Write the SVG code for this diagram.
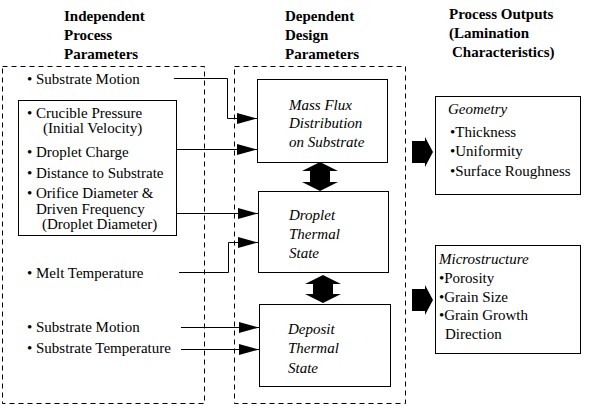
<svg xmlns="http://www.w3.org/2000/svg" width="589" height="406" viewBox="0 0 589 406">
<style>
text{font-family:"Liberation Serif","Times New Roman",serif;font-size:15px;fill:#000}
.h{font-weight:bold}
.i{font-style:italic}
.dash{fill:none;stroke:#000;stroke-width:1;stroke-dasharray:5,4}
.box{fill:#fff;stroke:#000;stroke-width:1}
.ln{fill:none;stroke:#000;stroke-width:1}
.blk{fill:#000;stroke:none}
</style>
<defs>
<marker id="ah" viewBox="0 0 20 11" refX="20" refY="5.5" markerWidth="20" markerHeight="11" markerUnits="userSpaceOnUse" orient="auto">
<path d="M0,0 L20,5.5 L0,11 z" fill="#000"/>
</marker>
</defs>
<rect width="589" height="406" fill="#fff"/>
<g id="headers">
<text class="h" x="64" y="21">Independent</text>
<text class="h" x="64" y="40">Process</text>
<text class="h" x="64" y="59">Parameters</text>
<text class="h" x="285" y="21">Dependent</text>
<text class="h" x="285" y="40">Design</text>
<text class="h" x="285" y="59">Parameters</text>
<text class="h" x="449" y="19">Process Outputs</text>
<text class="h" x="449" y="38">(Lamination</text>
<text class="h" x="452" y="57">Characteristics)</text>
</g>
<g id="independent">
<rect class="dash" x="2.5" y="66.5" width="202" height="337"/>
<rect class="box" x="18.5" y="100.5" width="158" height="135"/>
<text x="27" y="84">• Substrate Motion</text>
<text x="27" y="118">• Crucible Pressure</text>
<text x="43" y="132.5">(Initial Velocity)</text>
<text x="27" y="157">• Droplet Charge</text>
<text x="27" y="178">• Distance to Substrate</text>
<text x="27" y="198">• Orifice Diameter &amp;</text>
<text x="36" y="214">Driven Frequency</text>
<text x="42" y="229">(Droplet Diameter)</text>
<text x="27" y="278">• Melt Temperature</text>
<text x="27" y="332">• Substrate Motion</text>
<text x="27" y="353">• Substrate Temperature</text>
</g>
<g id="dependent">
<rect class="dash" x="234.5" y="66.5" width="171" height="337"/>
</g>
<g id="massflux">
<rect class="box" x="257.5" y="79.5" width="130" height="83"/>
<text class="i" x="289" y="110">Mass Flux</text>
<text class="i" x="289" y="128">Distribution</text>
<text class="i" x="289" y="147">on Substrate</text>
</g>
<g id="droplet">
<rect class="box" x="258.5" y="191.5" width="130" height="81"/>
<text class="i" x="289" y="220">Droplet</text>
<text class="i" x="289" y="239">Thermal</text>
<text class="i" x="289" y="258">State</text>
</g>
<g id="deposit">
<rect class="box" x="259.5" y="304.5" width="131" height="82"/>
<text class="i" x="288" y="334">Deposit</text>
<text class="i" x="288" y="353">Thermal</text>
<text class="i" x="288" y="373">State</text>
</g>
<g id="geometry">
<rect class="box" x="435.5" y="96.5" width="145" height="98"/>
<text class="i" x="448" y="114">Geometry</text>
<text x="450" y="137">•Thickness</text>
<text x="450" y="156">•Uniformity</text>
<text x="450" y="176">•Surface Roughness</text>
</g>
<g id="microstructure">
<rect class="box" x="435.5" y="245.5" width="145" height="108"/>
<text class="i" x="439" y="264">Microstructure</text>
<text x="439" y="283">•Porosity</text>
<text x="439" y="302">•Grain Size</text>
<text x="439" y="320">•Grain Growth</text>
<text x="445" y="339">Direction</text>
</g>
<g id="connectors">
<polyline class="ln" points="174,78.5 227.5,78.5 227.5,118.5 257,118.5" marker-end="url(#ah)"/>
<line class="ln" x1="176" y1="149.5" x2="257" y2="149.5" marker-end="url(#ah)"/>
<line class="ln" x1="176" y1="213.5" x2="258" y2="213.5" marker-end="url(#ah)"/>
<polyline class="ln" points="179,272.5 228.5,272.5 228.5,242.5 258,242.5" marker-end="url(#ah)"/>
<line class="ln" x1="181" y1="327.5" x2="259" y2="327.5" marker-end="url(#ah)"/>
<line class="ln" x1="181" y1="349.5" x2="259" y2="349.5" marker-end="url(#ah)"/>
<path class="blk" d="M320,162 L338,171 L330,171 L330,182 L338,182 L320,191 L302,182 L310,182 L310,171 L302,171 z"/>
<path class="blk" d="M323,275 L341,284 L333,284 L333,294 L341,294 L323,303 L305,294 L313,294 L313,284 L305,284 z"/>
<path class="blk" d="M412,141 L425,141 L425,137 L433,152 L425,167 L425,163 L412,163 z"/>
<path class="blk" d="M412,289 L425,289 L425,285 L433,300 L425,315 L425,311 L412,311 z"/>
</g>
</svg>
